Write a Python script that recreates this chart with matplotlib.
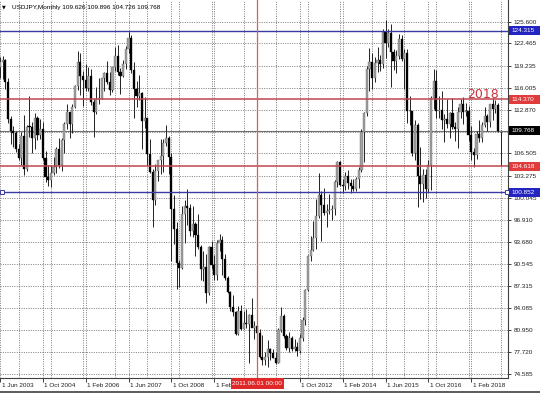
import numpy as np
import pandas as pd
import matplotlib
matplotlib.use('Agg')
import matplotlib.pyplot as plt
from matplotlib.patches import Rectangle
from matplotlib.lines import Line2D
import matplotlib.transforms as mtransforms

plt.rcParams['font.family'] = ['Liberation Sans', 'DejaVu Sans']

symbol = 'USDJPY,Monthly'
header_ohlc = '109.626 109.896 104.726 109.768'

# monthly bars, Jun 2003 .. Jan 2019
months = pd.date_range('2003-06-01', '2019-01-01', freq='MS')

opens = [
    119.1, 119.7, 120.1, 116.8, 111.5, 109.8, 109.5,                          # 2003
    107.2, 105.9, 109.1, 104.2, 110.4, 110.3, 108.8, 111.6, 109.2, 110.1, 105.8, 103.1,  # 2004
    102.6, 103.6, 104.6, 107.2, 104.8, 108.5, 110.8, 112.5, 110.8, 113.3, 116.3, 119.8,  # 2005
    117.8, 117.2, 116.0, 117.8, 113.9, 112.5, 114.4, 114.6, 117.4, 118.1, 116.8, 115.7,  # 2006
    119.0, 120.7, 118.3, 117.8, 119.5, 121.7, 123.2, 118.6, 115.8, 114.8, 115.3, 111.2,  # 2007
    111.7, 106.4, 103.8, 99.7, 104.0, 105.5, 106.2, 108.0, 108.8, 106.0, 98.5, 95.5,     # 2008
    90.6, 89.9, 97.7, 98.9, 98.6, 95.3, 96.3, 94.7, 93.0, 89.8, 90.0, 86.3,              # 2009
    92.9, 90.3, 88.9, 93.5, 94.0, 91.2, 88.4, 86.4, 84.2, 83.5, 80.4, 83.7,              # 2010
    81.1, 82.0, 81.8, 83.1, 81.2, 81.5, 80.5, 77.0, 76.6, 77.0, 78.2, 77.6,              # 2011
    76.9, 76.2, 80.9, 82.9, 80.0, 78.3, 79.8, 78.1, 78.4, 77.9, 79.8, 82.4,              # 2012
    86.7, 91.7, 92.5, 94.2, 97.4, 100.5, 99.1, 97.9, 98.2, 98.3, 98.4, 102.4,            # 2013
    105.3, 102.0, 101.8, 103.2, 102.2, 101.8, 101.3, 102.8, 104.1, 109.6, 112.3, 118.7,  # 2014
    119.8, 117.5, 119.6, 120.1, 119.4, 124.1, 122.5, 123.9, 121.2, 119.9, 120.6, 123.1,  # 2015
    120.2, 121.1, 112.7, 112.6, 106.5, 110.7, 103.2, 102.1, 103.4, 101.3, 104.8, 114.5,  # 2016
    117.0, 112.7, 112.8, 111.4, 111.5, 110.8, 112.4, 110.3, 110.1, 112.5, 113.6, 112.5,  # 2017
    112.7, 109.2, 106.7, 106.3, 109.3, 108.8, 110.7, 111.9, 111.0, 113.7, 112.9, 113.5,  # 2018
    109.626,                                                                             # 2019
]
highs = [
    120.5, 120.7, 120.2, 117.4, 112.0, 110.5, 109.7,
    107.9, 109.6, 112.1, 110.6, 114.9, 111.0, 112.3, 111.9, 111.5, 111.1, 106.9, 104.9,
    104.8, 106.0, 107.5, 108.7, 108.7, 111.1, 113.7, 112.5, 113.6, 116.4, 121.4, 121.0,
    118.4, 119.4, 119.1, 118.7, 114.4, 116.2, 117.4, 117.5, 118.3, 119.9, 118.3, 119.1,
    121.9, 122.2, 118.9, 120.0, 122.1, 124.1, 123.6, 119.8, 117.0, 117.9, 115.4, 114.7,
    111.7, 108.6, 104.3, 105.0, 105.6, 108.6, 108.6, 110.7, 109.0, 106.5, 100.5, 96.5,
    91.0, 98.9, 99.7, 101.4, 99.2, 98.9, 96.6, 97.8, 93.3, 92.3, 92.0, 93.1,
    93.8, 91.8, 94.0, 94.9, 94.6, 92.0, 88.8, 86.5, 86.0, 83.6, 84.4, 84.5,
    83.7, 84.0, 83.3, 85.5, 82.2, 81.6, 81.0, 80.2, 77.8, 79.5, 78.3, 78.2,
    77.7, 81.2, 84.2, 83.3, 80.3, 80.6, 80.0, 79.6, 79.2, 80.4, 82.8, 86.8,
    91.8, 94.5, 96.7, 99.9, 103.7, 101.0, 101.5, 99.2, 100.6, 99.0, 102.6, 105.4,
    105.4, 102.8, 103.8, 104.1, 102.8, 102.8, 103.1, 104.5, 110.1, 112.5, 119.2, 121.8,
    121.0, 120.5, 122.0, 120.8, 124.5, 125.9, 124.6, 125.3, 121.7, 121.5, 123.8, 123.6,
    121.7, 121.7, 114.9, 112.7, 111.4, 110.9, 107.5, 104.3, 104.3, 105.5, 114.8, 118.7,
    118.6, 114.9, 115.5, 112.2, 114.4, 112.5, 114.5, 111.0, 113.3, 114.4, 114.7, 113.8,
    113.4, 110.5, 107.3, 109.8, 111.4, 111.0, 113.2, 112.2, 113.7, 114.6, 114.2, 113.8,
    109.896,
]
lows = [
    117.5, 117.3, 115.9, 110.9, 107.9, 107.5, 106.7,
    105.6, 104.9, 103.4, 103.9, 108.9, 106.6, 107.2, 108.4, 108.6, 105.6, 102.4, 101.8,
    101.7, 103.4, 103.6, 104.4, 104.0, 106.6, 110.0, 108.7, 109.4, 113.1, 115.7, 115.0,
    113.4, 115.5, 115.6, 113.5, 108.9, 112.2, 113.7, 114.4, 115.5, 116.6, 115.0, 115.4,
    118.5, 117.9, 115.1, 117.6, 118.7, 121.1, 118.2, 111.6, 113.2, 114.2, 107.2, 110.2,
    104.9, 103.7, 95.8, 99.1, 102.5, 103.5, 103.8, 107.6, 103.5, 90.9, 93.4, 86.9,
    87.1, 89.8, 93.5, 96.2, 94.5, 94.4, 91.7, 92.6, 88.2, 88.0, 84.8, 86.0,
    89.8, 88.1, 88.1, 92.3, 88.9, 88.2, 86.3, 83.6, 82.9, 80.2, 80.2, 80.9,
    81.1, 81.2, 76.2, 81.3, 79.6, 79.7, 76.8, 75.9, 75.8, 75.6, 76.6, 76.9,
    76.0, 76.1, 80.6, 79.8, 78.0, 77.7, 77.9, 77.9, 77.1, 77.6, 79.3, 81.7,
    86.5, 90.9, 92.4, 92.6, 97.1, 93.8, 97.6, 95.8, 97.8, 96.9, 97.6, 101.6,
    101.8, 100.8, 101.2, 101.4, 100.8, 101.1, 101.1, 101.5, 103.8, 105.2, 112.0, 115.6,
    115.9, 116.9, 118.3, 118.5, 118.9, 120.4, 121.9, 116.2, 118.6, 118.1, 120.2, 119.9,
    115.9, 110.9, 110.7, 106.1, 105.5, 98.8, 99.9, 99.5, 100.1, 100.9, 101.2, 112.9,
    111.6, 111.6, 110.1, 108.1, 110.2, 108.8, 110.0, 108.3, 107.3, 111.7, 110.8, 111.9,
    108.3, 105.6, 104.6, 105.7, 108.1, 108.1, 110.3, 109.8, 110.4, 111.4, 112.3, 109.6,
    104.726,
]
closes = [
    119.7, 120.1, 116.8, 111.5, 109.8, 109.5, 107.2,
    105.9, 109.1, 104.2, 110.4, 110.3, 108.8, 111.6, 109.2, 110.1, 105.8, 103.1, 102.6,
    103.6, 104.6, 107.2, 104.8, 108.5, 110.8, 112.5, 110.8, 113.3, 116.3, 119.8, 117.8,
    117.2, 116.0, 117.8, 113.9, 112.5, 114.4, 114.6, 117.4, 118.1, 116.8, 115.7, 119.0,
    120.7, 118.3, 117.8, 119.5, 121.7, 123.2, 118.6, 115.8, 114.8, 115.3, 111.2, 111.7,
    106.4, 103.8, 99.7, 104.0, 105.5, 106.2, 108.0, 108.8, 106.0, 98.5, 95.5, 90.6,
    89.9, 97.7, 98.9, 98.6, 95.3, 96.3, 94.7, 93.0, 89.8, 90.0, 86.3, 92.9,
    90.3, 88.9, 93.5, 94.0, 91.2, 88.4, 86.4, 84.2, 83.5, 80.4, 83.7, 81.1,
    82.0, 81.8, 83.1, 81.2, 81.5, 80.5, 77.0, 76.6, 77.0, 78.2, 77.6, 76.9,
    76.2, 80.9, 82.9, 80.0, 78.3, 79.8, 78.1, 78.4, 77.9, 79.8, 82.4, 86.7,
    91.7, 92.5, 94.2, 97.4, 100.5, 99.1, 97.9, 98.2, 98.3, 98.4, 102.4, 105.3,
    102.0, 101.8, 103.2, 102.2, 101.8, 101.3, 102.8, 104.1, 109.6, 112.3, 118.7, 119.8,
    117.5, 119.6, 120.1, 119.4, 124.1, 122.5, 123.9, 121.2, 119.9, 120.6, 123.1, 120.2,
    121.1, 112.7, 112.6, 106.5, 110.7, 103.2, 102.1, 103.4, 101.3, 104.8, 114.5, 117.0,
    112.7, 112.8, 111.4, 111.5, 110.8, 112.4, 110.3, 110.1, 112.5, 113.6, 112.5, 112.7,
    109.2, 106.7, 106.3, 109.3, 108.8, 110.7, 111.9, 111.0, 113.7, 112.9, 113.5, 109.7,
    109.768,
]

price_ticks = [125.600, 122.465, 119.235, 116.005, 112.870, 109.640, 106.505, 103.275,
               100.045, 96.910, 93.680, 90.545, 87.315, 84.085, 80.950, 77.720, 74.585]
time_ticks = ['2003-06', '2004-10', '2006-02', '2007-06', '2008-10', '2010-02',
              '2011-06', '2012-10', '2014-02', '2015-06', '2016-10', '2018-02']
blue_levels = [124.315, 100.852]
red_levels = [114.370, 104.618]
bid = 109.768
cursor_date = '2011-06-01'
cursor_label = '2011.06.01 00:00'
note_text = '2018'

W, H = 540, 393
fig = plt.figure(figsize=(W / 100, H / 100), dpi=100)
ax = fig.add_axes([0, 15 / H, 508 / W, 378 / H])

x = np.arange(len(months))
o = np.array(opens); hi = np.array(highs); lo = np.array(lows); c = np.array(closes)
up = c >= o

# grid: label positions and year separators, both dotted
grid_kw = dict(color='#6a6a6a', lw=0.6, ls=(0, (1.2, 1.6)), zorder=0)
tick_idx = [months.get_loc(pd.Timestamp(t)) for t in time_ticks]
year_idx = [i for i, d in enumerate(months) if d.month == 1]
for i in sorted(set(tick_idx + year_idx)):
    ax.axvline(i, **grid_kw)
for p in price_ticks:
    ax.axhline(p, **grid_kw)

# candles
ax.vlines(x, lo, hi, color='#222222', lw=0.7, zorder=2)
body_lo = np.minimum(o, c)
body_h = np.maximum(np.abs(c - o), 0.12)
ax.bar(x, body_h, bottom=body_lo, width=0.8,
       color=np.where(up, '#a2a2a2', '#000000'),
       edgecolor=np.where(up, '#5a5a5a', '#000000'), lw=0.25, zorder=3)

# levels
for p in blue_levels:
    ax.axhline(p, color='#3b3ba5', lw=1.0, zorder=4)
for p in red_levels:
    ax.axhline(p, color='#c0454f', lw=1.1, zorder=4)
ax.axhline(bid, color='#707070', lw=0.8, zorder=1)
cur_i = months.get_loc(pd.Timestamp(cursor_date))
ax.axvline(cur_i, color='#c86464', lw=0.9, zorder=4)
ax.plot([0.93, 189.4], [blue_levels[1]] * 2, 's', ms=2.6, mfc='white',
        mec='#3b3ba5', mew=0.7, clip_on=False, zorder=5)

ax.text(174.4, 114.47, note_text, color='#c8323c', fontsize=9,
        family='DejaVu Sans', ha='left', va='baseline', zorder=5)

ax.set_xlim(0.187, 189.74)
ax.set_ylim(73.96, 128.745)

# axes / ticks
ax.yaxis.tick_right()
ax.set_yticks(price_ticks)
ax.set_yticklabels(['' if p == 109.640 else f'{p:.3f}' for p in price_ticks])
# the cursor box hides most of "1 Feb 2010" and all of "1 Jun 2011"
xlabels = []
for i in tick_idx:
    d = months[i]
    if i == months.get_loc(pd.Timestamp(cursor_date)):
        xlabels.append('')
    elif d.year == 2010:
        xlabels.append(f"1 {d.strftime('%b')}")
    else:
        xlabels.append(f"1 {d.strftime('%b')} {d.year}")
ax.set_xticks(tick_idx)
ax.set_xticklabels(xlabels)
ax.tick_params(axis='y', length=2.5, width=0.6, pad=1.5, labelsize=4.6, colors='#202020')
ax.tick_params(axis='x', length=3, width=0.6, pad=0.8, labelsize=4.6, colors='#202020')
offset = mtransforms.ScaledTranslation(1.5 / 100, 0, fig.dpi_scale_trans)
for lbl in ax.get_xticklabels():
    lbl.set_horizontalalignment('left')
    lbl.set_transform(lbl.get_transform() + offset)
for s in ['top', 'left']:
    ax.spines[s].set_visible(False)
for s in ['right', 'bottom']:
    ax.spines[s].set_color('#404040')
    ax.spines[s].set_linewidth(0.8)

# coloured price labels on the right scale
ytr = mtransforms.blended_transform_factory(fig.transFigure, ax.transData)
boxes = [(blue_levels[0], '#2424c0'), (red_levels[0], '#e03c3c'), (bid, '#000000'),
         (red_levels[1], '#e03c3c'), (blue_levels[1], '#2424c0')]
for p, col in boxes:
    fig.add_artist(Rectangle((508.5 / W, p - 0.66), 31.5 / W, 1.32, transform=ytr,
                             fc=col, ec='none', zorder=6))
    fig.text(511 / W, p, f'{p:.3f}', transform=ytr, color='white', fontsize=4.6,
             va='center', ha='left', zorder=7)

# cursor date label on the time scale
xtr = mtransforms.blended_transform_factory(ax.transData, fig.transFigure)
fig.add_artist(Rectangle((cur_i - 9.9, 4 / H), 19.8, 11 / H, transform=xtr,
                         fc='#e02828', ec='none', zorder=6))
fig.text(cur_i, 9.5 / H, cursor_label, transform=xtr, color='white', fontsize=4.6,
         ha='center', va='center', zorder=7)

# header
fig.text(2 / W, 1 - 7 / H, '\u25bc', fontsize=3.5, family='DejaVu Sans', va='center')
fig.text(12 / W, 1 - 7 / H, f'{symbol} {header_ohlc}', fontsize=4.6, va='center')

fig.add_artist(Line2D([0, 1], [1 / H, 1 / H], color='#404040', lw=1.2))

fig.savefig('out.png', dpi=100, facecolor='white')
